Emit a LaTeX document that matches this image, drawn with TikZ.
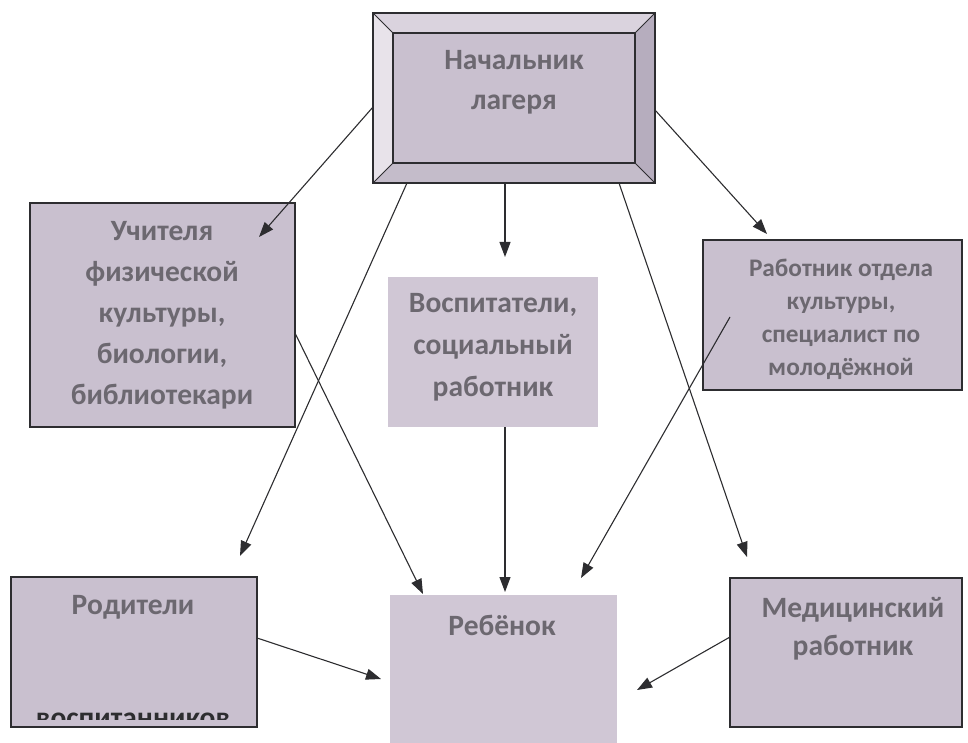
\documentclass[tikz,border=0pt]{standalone}
\usepackage{fontspec}
\setmainfont{Carlito}
\usetikzlibrary{arrows.meta,calc}
\definecolor{boxfill}{RGB}{201,192,207}
\definecolor{softfill}{RGB}{208,199,213}
\definecolor{txt}{RGB}{108,104,112}
\definecolor{bevtop}{RGB}{218,211,222}
\definecolor{bevleft}{RGB}{232,227,234}
\definecolor{bevright}{RGB}{182,173,190}
\definecolor{bevbot}{RGB}{196,188,202}
\definecolor{ink}{RGB}{45,45,48}
\begin{document}
\begin{tikzpicture}[x=1pt,y=-1pt,
  box/.style={draw=ink, line width=1.3pt, fill=boxfill, inner sep=0pt, outer sep=0pt},
  softbox/.style={fill=softfill, inner sep=0pt, outer sep=0pt},
  lbl/.style={text=txt, font=\bfseries\fontsize{29.5}{40}\selectfont, align=center, inner sep=0pt},
  lblsmall/.style={text=txt, font=\bfseries\fontsize{25.3}{33}\selectfont, align=center, inner sep=0pt},
  conn/.style={draw=ink, line width=1.1pt, -{Triangle[length=15pt,width=11pt]}}]
\useasboundingbox (0,0) rectangle (968,743);

% boxes
\node[box, minimum width=282pt, minimum height=170pt] (top) at (514,98) {};
\node[inner sep=0pt, outer sep=0pt, minimum width=242pt, minimum height=130pt] (topin) at (514,98) {};
\fill[bevtop] (top.north west) -- (top.north east) -- (topin.north east) -- (topin.north west) -- cycle;
\fill[bevleft] (top.north west) -- (topin.north west) -- (topin.south west) -- (top.south west) -- cycle;
\fill[bevright] (top.north east) -- (top.south east) -- (topin.south east) -- (topin.north east) -- cycle;
\fill[bevbot] (top.south west) -- (top.south east) -- (topin.south east) -- (topin.south west) -- cycle;
\draw[ink, line width=1.3pt] (top.north west) rectangle (top.south east);
\draw[ink, line width=1.3pt, fill=boxfill] (topin.north west) rectangle (topin.south east);
\draw[ink, line width=0.8pt] (top.north west) -- (topin.north west)
  (top.north east) -- (topin.north east)
  (top.south west) -- (topin.south west)
  (top.south east) -- (topin.south east);

\node[box, minimum width=265pt, minimum height=224pt] (teach) at (162.5,315) {};
\node[softbox, minimum width=210pt, minimum height=150pt] (educ) at (493,352) {};
\node[box, minimum width=259pt, minimum height=150pt] (cult) at (832.5,315) {};
\node[box, minimum width=246pt, minimum height=150pt] (par) at (134,652) {};
\node[softbox, minimum width=227pt, minimum height=148pt] (child) at (503,669) {};
\node[box, minimum width=232pt, minimum height=149pt] (med) at (846,652.5) {};

% labels
\node[lbl] (ttop) at (514,82) {Начальник\\лагеря};
\node[lbl, font=\bfseries\fontsize{29.5}{41}\selectfont] (tteach) at (162,315) {Учителя\\физической\\культуры,\\биологии,\\библиотекари};
\node[lbl, font=\bfseries\fontsize{29.5}{42}\selectfont] (teduc) at (493,347) {Воспитатели,\\социальный\\работник};
\node[lblsmall] (tcult) at (841,319) {Работник отдела\\культуры,\\специалист по\\молодёжной};
\node[lbl] (tpar) at (133,607) {Родители};
\begin{scope}
  \clip (par.north west) rectangle (257,719);
  \node[lbl, text=ink, anchor=base] (tpar2) at (133,727) {воспитанников};
\end{scope}
\node[lbl] (tchild) at (502,625) {Ребёнок};
\node[lbl, font=\bfseries\fontsize{29.5}{38}\selectfont] (tmed) at (853,629) {Медицинский\\работник};

% connector end points
\coordinate (s1) at (373,107);  \coordinate (e1) at (259,237);
\coordinate (s2) at (407,183);  \coordinate (e2) at (240,556);
\coordinate (s3) at (505,183);  \coordinate (e3) at (505,257);
\coordinate (s4) at (619,183);  \coordinate (e4) at (747,557);
\coordinate (s5) at (655,110);  \coordinate (e5) at (767,234);
\coordinate (s6) at (295,333);  \coordinate (e6) at (423,594);
\coordinate (s7) at (505,427);  \coordinate (e7) at (505,592);
\coordinate (s8) at (730,317);  \coordinate (e8) at (581,578);
\coordinate (s9) at (257,638);  \coordinate (e9) at (381,679);
\coordinate (s10) at (730,637); \coordinate (e10) at (637,690);

\draw[conn] (s1) -- (e1);
\draw[conn] (s2) -- (e2);
\draw[conn] (s3) -- (e3);
\draw[conn] (s4) -- (e4);
\draw[conn] (s5) -- (e5);
\draw[conn] (s6) -- (e6);
\draw[conn] (s7) -- (e7);
\draw[conn] (s8) -- (e8);
\draw[conn] (s9) -- (e9);
\draw[conn] (s10) -- (e10);
\end{tikzpicture}
\end{document}
